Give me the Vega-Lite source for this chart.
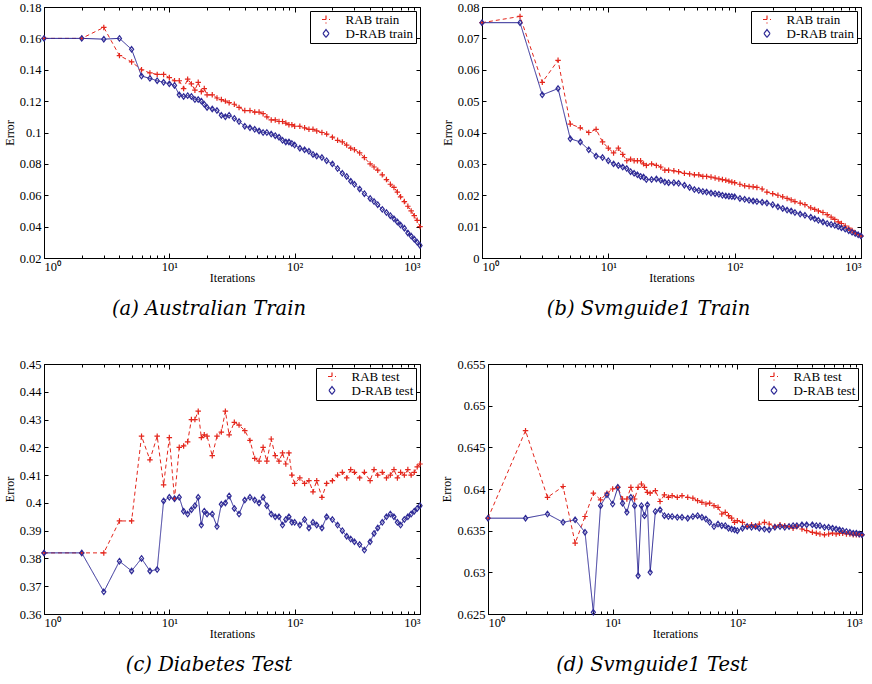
{
"$schema":"https://vega.github.io/schema/vega-lite/v6.json",
"padding":{"left":2,"top":0,"right":2,"bottom":0},
"background":"white",
"config":{
 "font":"Liberation Serif",
 "view":{"stroke":"black","strokeWidth":1},
 "axis":{"grid":false,"domainColor":"black","domainWidth":1,"tickColor":"black","tickWidth":1,"labelColor":"black","labelFont":"Liberation Serif","labelFontSize":12.5,"titleFont":"Liberation Serif","titleFontSize":12,"titleFontWeight":"normal","titleColor":"black","tickSize":-4},
 "axisLeft":{"labelPadding":7,"titlePadding":3},
 "axisBottom":{"labelPadding":7,"titlePadding":0},
 "axisTop":{"labels":false,"domain":false,"title":null},
 "axisRight":{"labels":false,"domain":false,"title":null},
 "legend":{"orient":"top-right","offset":4,"fillColor":"white","strokeColor":"black","padding":2,"labelFont":"Liberation Serif","labelFontSize":13,"labelColor":"black","rowPadding":-2,"title":null,"symbolSize":64,"symbolStrokeWidth":1.2,"symbolOffset":7.5,"labelOffset":13},
 "title":{"orient":"bottom","font":"DejaVu Serif","fontSize":19.5,"fontWeight":"normal","fontStyle":"italic","color":"black","offset":16,"anchor":"middle","dx":-23}
},
"datasets":{
"a":[
{"x":1,"RAB":0.160,"DRAB":0.160},{"x":2,"RAB":0.160,"DRAB":0.160},{"x":3,"RAB":0.167,"DRAB":0.1595},{"x":4,"RAB":0.149,"DRAB":0.160},{"x":5,"RAB":0.145,"DRAB":0.153},{"x":6,"RAB":0.140,"DRAB":0.136},{"x":7,"RAB":0.138,"DRAB":0.1345},{"x":8,"RAB":0.137,"DRAB":0.133},{"x":9,"RAB":0.137,"DRAB":0.132},{"x":10,"RAB":0.135,"DRAB":0.131},{"x":11,"RAB":0.133,"DRAB":0.130},{"x":12,"RAB":0.133,"DRAB":0.124},{"x":13,"RAB":0.128,"DRAB":0.123},{"x":14,"RAB":0.134,"DRAB":0.1235},{"x":15,"RAB":0.131,"DRAB":0.123},{"x":16,"RAB":0.127,"DRAB":0.121},{"x":17,"RAB":0.132,"DRAB":0.121},{"x":18,"RAB":0.126,"DRAB":0.120},{"x":19,"RAB":0.128,"DRAB":0.118},{"x":20,"RAB":0.124,"DRAB":0.116},
{"x":22,"RAB":0.124,"DRAB":0.115},{"x":24,"RAB":0.122,"DRAB":0.114},{"x":26,"RAB":0.121,"DRAB":0.111},{"x":28,"RAB":0.120,"DRAB":0.110},{"x":30,"RAB":0.119,"DRAB":0.111},{"x":33,"RAB":0.118,"DRAB":0.109},{"x":36,"RAB":0.116,"DRAB":0.107},{"x":40,"RAB":0.114,"DRAB":0.104},{"x":44,"RAB":0.114,"DRAB":0.103},{"x":48,"RAB":0.113,"DRAB":0.102},{"x":52,"RAB":0.113,"DRAB":0.101},{"x":56,"RAB":0.112,"DRAB":0.100},{"x":60,"RAB":0.110,"DRAB":0.100},{"x":65,"RAB":0.108,"DRAB":0.099},{"x":70,"RAB":0.108,"DRAB":0.098},{"x":75,"RAB":0.107,"DRAB":0.097},{"x":80,"RAB":0.107,"DRAB":0.095},{"x":85,"RAB":0.106,"DRAB":0.094},{"x":90,"RAB":0.105,"DRAB":0.094},{"x":95,"RAB":0.105,"DRAB":0.093},{"x":100,"RAB":0.104,"DRAB":0.092},
{"x":110,"RAB":0.104,"DRAB":0.090},{"x":120,"RAB":0.103,"DRAB":0.089},{"x":130,"RAB":0.102,"DRAB":0.088},{"x":140,"RAB":0.102,"DRAB":0.086},{"x":150,"RAB":0.101,"DRAB":0.085},{"x":165,"RAB":0.100,"DRAB":0.084},{"x":180,"RAB":0.099,"DRAB":0.082},{"x":200,"RAB":0.097,"DRAB":0.080},{"x":220,"RAB":0.095,"DRAB":0.077},{"x":240,"RAB":0.094,"DRAB":0.074},{"x":260,"RAB":0.092,"DRAB":0.072},{"x":280,"RAB":0.090,"DRAB":0.069},{"x":300,"RAB":0.089,"DRAB":0.067},{"x":330,"RAB":0.087,"DRAB":0.064},{"x":360,"RAB":0.084,"DRAB":0.061},{"x":400,"RAB":0.080,"DRAB":0.058},{"x":430,"RAB":0.078,"DRAB":0.056},{"x":460,"RAB":0.076,"DRAB":0.054},{"x":500,"RAB":0.073,"DRAB":0.051},{"x":540,"RAB":0.070,"DRAB":0.049},{"x":580,"RAB":0.067,"DRAB":0.047},{"x":620,"RAB":0.065,"DRAB":0.045},{"x":660,"RAB":0.062,"DRAB":0.043},{"x":700,"RAB":0.059,"DRAB":0.041},{"x":750,"RAB":0.056,"DRAB":0.039},{"x":800,"RAB":0.053,"DRAB":0.036},{"x":850,"RAB":0.050,"DRAB":0.034},{"x":900,"RAB":0.047,"DRAB":0.032},{"x":950,"RAB":0.044,"DRAB":0.030},{"x":1000,"RAB":0.040,"DRAB":0.028}
],
"b":[
{"x":1,"RAB":0.075,"DRAB":0.075},{"x":2,"RAB":0.077,"DRAB":0.075},{"x":3,"RAB":0.056,"DRAB":0.052},{"x":4,"RAB":0.063,"DRAB":0.054},{"x":5,"RAB":0.0427,"DRAB":0.038},{"x":6,"RAB":0.0415,"DRAB":0.037},{"x":7,"RAB":0.040,"DRAB":0.0345},{"x":8,"RAB":0.041,"DRAB":0.0325},{"x":9,"RAB":0.037,"DRAB":0.032},{"x":10,"RAB":0.035,"DRAB":0.031},{"x":11,"RAB":0.0335,"DRAB":0.030},{"x":12,"RAB":0.035,"DRAB":0.0295},{"x":13,"RAB":0.033,"DRAB":0.029},{"x":14,"RAB":0.031,"DRAB":0.0285},{"x":15,"RAB":0.0315,"DRAB":0.0275},{"x":16,"RAB":0.031,"DRAB":0.027},{"x":17,"RAB":0.031,"DRAB":0.0265},{"x":18,"RAB":0.031,"DRAB":0.026},{"x":19,"RAB":0.030,"DRAB":0.0258},{"x":20,"RAB":0.0295,"DRAB":0.025},
{"x":22,"RAB":0.030,"DRAB":0.025},{"x":24,"RAB":0.0295,"DRAB":0.0252},{"x":26,"RAB":0.029,"DRAB":0.0248},{"x":28,"RAB":0.028,"DRAB":0.0242},{"x":30,"RAB":0.028,"DRAB":0.024},{"x":33,"RAB":0.0278,"DRAB":0.024},{"x":36,"RAB":0.0275,"DRAB":0.0238},{"x":40,"RAB":0.027,"DRAB":0.0232},{"x":44,"RAB":0.0268,"DRAB":0.0225},{"x":48,"RAB":0.0265,"DRAB":0.0218},{"x":52,"RAB":0.0265,"DRAB":0.0215},{"x":56,"RAB":0.026,"DRAB":0.0212},{"x":60,"RAB":0.026,"DRAB":0.021},{"x":65,"RAB":0.0258,"DRAB":0.0207},{"x":70,"RAB":0.0255,"DRAB":0.0205},{"x":75,"RAB":0.0252,"DRAB":0.0203},{"x":80,"RAB":0.025,"DRAB":0.020},{"x":85,"RAB":0.0248,"DRAB":0.0198},{"x":90,"RAB":0.0245,"DRAB":0.0197},{"x":95,"RAB":0.0242,"DRAB":0.0196},{"x":100,"RAB":0.024,"DRAB":0.0195},
{"x":110,"RAB":0.0235,"DRAB":0.019},{"x":120,"RAB":0.023,"DRAB":0.0187},{"x":130,"RAB":0.0228,"DRAB":0.0184},{"x":140,"RAB":0.0227,"DRAB":0.0182},{"x":150,"RAB":0.0225,"DRAB":0.018},{"x":165,"RAB":0.022,"DRAB":0.0178},{"x":180,"RAB":0.021,"DRAB":0.0175},{"x":200,"RAB":0.0205,"DRAB":0.017},{"x":220,"RAB":0.020,"DRAB":0.0163},{"x":240,"RAB":0.0195,"DRAB":0.0158},{"x":260,"RAB":0.019,"DRAB":0.0153},{"x":280,"RAB":0.0185,"DRAB":0.015},{"x":300,"RAB":0.018,"DRAB":0.0145},{"x":330,"RAB":0.0175,"DRAB":0.014},{"x":360,"RAB":0.017,"DRAB":0.0136},{"x":400,"RAB":0.016,"DRAB":0.013},{"x":430,"RAB":0.0155,"DRAB":0.0125},{"x":460,"RAB":0.015,"DRAB":0.012},{"x":500,"RAB":0.0145,"DRAB":0.0115},{"x":540,"RAB":0.0138,"DRAB":0.011},{"x":580,"RAB":0.013,"DRAB":0.0107},{"x":620,"RAB":0.0123,"DRAB":0.0104},{"x":660,"RAB":0.0115,"DRAB":0.010},{"x":700,"RAB":0.011,"DRAB":0.0096},{"x":750,"RAB":0.0102,"DRAB":0.0092},{"x":800,"RAB":0.0095,"DRAB":0.0087},{"x":850,"RAB":0.0088,"DRAB":0.0082},{"x":900,"RAB":0.008,"DRAB":0.0078},{"x":950,"RAB":0.0075,"DRAB":0.0074},{"x":1000,"RAB":0.007,"DRAB":0.007}
],
"c":[
{"x":1,"RAB":0.382,"DRAB":0.382},{"x":2,"RAB":0.382,"DRAB":0.382},{"x":3,"RAB":0.382,"DRAB":0.368},{"x":4,"RAB":0.3935,"DRAB":0.379},{"x":5,"RAB":0.3935,"DRAB":0.3755},{"x":6,"RAB":0.424,"DRAB":0.380},{"x":7,"RAB":0.4155,"DRAB":0.3755},{"x":8,"RAB":0.424,"DRAB":0.376},{"x":9,"RAB":0.4065,"DRAB":0.4007},{"x":10,"RAB":0.4235,"DRAB":0.402},{"x":11,"RAB":0.4015,"DRAB":0.4015},{"x":12,"RAB":0.420,"DRAB":0.402},{"x":13,"RAB":0.4205,"DRAB":0.397},{"x":14,"RAB":0.422,"DRAB":0.396},{"x":15,"RAB":0.430,"DRAB":0.3975},{"x":16,"RAB":0.430,"DRAB":0.399},{"x":17,"RAB":0.433,"DRAB":0.402},{"x":18,"RAB":0.4235,"DRAB":0.392},{"x":19,"RAB":0.4245,"DRAB":0.397},{"x":20,"RAB":0.424,"DRAB":0.396},
{"x":22,"RAB":0.417,"DRAB":0.396},{"x":24,"RAB":0.424,"DRAB":0.3915},{"x":26,"RAB":0.4255,"DRAB":0.3995},{"x":28,"RAB":0.433,"DRAB":0.400},{"x":30,"RAB":0.4245,"DRAB":0.4025},{"x":33,"RAB":0.429,"DRAB":0.398},{"x":36,"RAB":0.428,"DRAB":0.396},{"x":40,"RAB":0.426,"DRAB":0.401},{"x":44,"RAB":0.4225,"DRAB":0.402},{"x":48,"RAB":0.416,"DRAB":0.401},{"x":52,"RAB":0.415,"DRAB":0.400},{"x":56,"RAB":0.420,"DRAB":0.402},{"x":60,"RAB":0.415,"DRAB":0.399},{"x":65,"RAB":0.423,"DRAB":0.396},{"x":70,"RAB":0.417,"DRAB":0.395},{"x":75,"RAB":0.415,"DRAB":0.395},{"x":80,"RAB":0.418,"DRAB":0.392},{"x":85,"RAB":0.414,"DRAB":0.394},{"x":90,"RAB":0.418,"DRAB":0.395},{"x":95,"RAB":0.410,"DRAB":0.393},{"x":100,"RAB":0.407,"DRAB":0.393},
{"x":110,"RAB":0.409,"DRAB":0.392},{"x":120,"RAB":0.407,"DRAB":0.394},{"x":130,"RAB":0.408,"DRAB":0.391},{"x":140,"RAB":0.404,"DRAB":0.393},{"x":150,"RAB":0.408,"DRAB":0.392},{"x":165,"RAB":0.402,"DRAB":0.391},{"x":180,"RAB":0.407,"DRAB":0.395},{"x":200,"RAB":0.408,"DRAB":0.394},{"x":220,"RAB":0.410,"DRAB":0.392},{"x":240,"RAB":0.411,"DRAB":0.390},{"x":260,"RAB":0.409,"DRAB":0.388},{"x":280,"RAB":0.412,"DRAB":0.387},{"x":300,"RAB":0.411,"DRAB":0.386},{"x":330,"RAB":0.409,"DRAB":0.385},{"x":360,"RAB":0.411,"DRAB":0.383},{"x":400,"RAB":0.408,"DRAB":0.386},{"x":430,"RAB":0.412,"DRAB":0.389},{"x":460,"RAB":0.410,"DRAB":0.391},{"x":500,"RAB":0.411,"DRAB":0.393},{"x":540,"RAB":0.409,"DRAB":0.395},{"x":580,"RAB":0.410,"DRAB":0.396},{"x":620,"RAB":0.412,"DRAB":0.395},{"x":660,"RAB":0.409,"DRAB":0.393},{"x":700,"RAB":0.411,"DRAB":0.392},{"x":750,"RAB":0.410,"DRAB":0.394},{"x":800,"RAB":0.412,"DRAB":0.395},{"x":850,"RAB":0.410,"DRAB":0.396},{"x":900,"RAB":0.411,"DRAB":0.397},{"x":950,"RAB":0.413,"DRAB":0.398},{"x":1000,"RAB":0.414,"DRAB":0.399}
],
"d":[
{"x":1,"RAB":0.6365,"DRAB":0.6365},{"x":2,"RAB":0.647,"DRAB":0.6365},{"x":3,"RAB":0.639,"DRAB":0.637},{"x":4,"RAB":0.6403,"DRAB":0.636},{"x":5,"RAB":0.6335,"DRAB":0.6363},{"x":6,"RAB":0.6367,"DRAB":0.6348},{"x":7,"RAB":0.6395,"DRAB":0.6252},{"x":8,"RAB":0.6387,"DRAB":0.638},{"x":9,"RAB":0.6395,"DRAB":0.6393},{"x":10,"RAB":0.640,"DRAB":0.6382},{"x":11,"RAB":0.6402,"DRAB":0.6402},{"x":12,"RAB":0.6388,"DRAB":0.6383},{"x":13,"RAB":0.6388,"DRAB":0.6372},{"x":14,"RAB":0.6402,"DRAB":0.639},{"x":15,"RAB":0.6388,"DRAB":0.638},{"x":16,"RAB":0.6402,"DRAB":0.6296},{"x":17,"RAB":0.6406,"DRAB":0.638},{"x":18,"RAB":0.6402,"DRAB":0.6368},{"x":19,"RAB":0.6396,"DRAB":0.6381},{"x":20,"RAB":0.6395,"DRAB":0.630},
{"x":22,"RAB":0.6398,"DRAB":0.6373},{"x":24,"RAB":0.6385,"DRAB":0.6375},{"x":26,"RAB":0.6393,"DRAB":0.6368},{"x":28,"RAB":0.6390,"DRAB":0.6367},{"x":30,"RAB":0.6392,"DRAB":0.6367},{"x":33,"RAB":0.6390,"DRAB":0.6366},{"x":36,"RAB":0.6392,"DRAB":0.6366},{"x":40,"RAB":0.6390,"DRAB":0.6365},{"x":44,"RAB":0.6389,"DRAB":0.6367},{"x":48,"RAB":0.6386,"DRAB":0.6368},{"x":52,"RAB":0.6384,"DRAB":0.6366},{"x":56,"RAB":0.6382,"DRAB":0.6364},{"x":60,"RAB":0.6383,"DRAB":0.636},{"x":65,"RAB":0.6380,"DRAB":0.6355},{"x":70,"RAB":0.6378,"DRAB":0.6358},{"x":75,"RAB":0.6370,"DRAB":0.6356},{"x":80,"RAB":0.6372,"DRAB":0.6356},{"x":85,"RAB":0.6368,"DRAB":0.6353},{"x":90,"RAB":0.6365,"DRAB":0.6352},{"x":95,"RAB":0.636,"DRAB":0.6351},{"x":100,"RAB":0.6362,"DRAB":0.635},
{"x":110,"RAB":0.6360,"DRAB":0.6353},{"x":120,"RAB":0.6355,"DRAB":0.6355},{"x":130,"RAB":0.6357,"DRAB":0.6354},{"x":140,"RAB":0.6355,"DRAB":0.6355},{"x":150,"RAB":0.6358,"DRAB":0.6353},{"x":165,"RAB":0.636,"DRAB":0.6352},{"x":180,"RAB":0.6358,"DRAB":0.6351},{"x":200,"RAB":0.6355,"DRAB":0.6354},{"x":220,"RAB":0.6357,"DRAB":0.6355},{"x":240,"RAB":0.6356,"DRAB":0.6354},{"x":260,"RAB":0.6355,"DRAB":0.6355},{"x":280,"RAB":0.6353,"DRAB":0.6356},{"x":300,"RAB":0.6355,"DRAB":0.6356},{"x":330,"RAB":0.6352,"DRAB":0.6357},{"x":360,"RAB":0.6350,"DRAB":0.6357},{"x":400,"RAB":0.6348,"DRAB":0.6357},{"x":430,"RAB":0.6347,"DRAB":0.6356},{"x":460,"RAB":0.6346,"DRAB":0.6356},{"x":500,"RAB":0.6345,"DRAB":0.6354},{"x":540,"RAB":0.6346,"DRAB":0.6354},{"x":580,"RAB":0.6347,"DRAB":0.6353},{"x":620,"RAB":0.6346,"DRAB":0.6352},{"x":660,"RAB":0.6347,"DRAB":0.6351},{"x":700,"RAB":0.6347,"DRAB":0.635},{"x":750,"RAB":0.6346,"DRAB":0.6349},{"x":800,"RAB":0.6346,"DRAB":0.6348},{"x":850,"RAB":0.6345,"DRAB":0.6347},{"x":900,"RAB":0.6345,"DRAB":0.6347},{"x":950,"RAB":0.6345,"DRAB":0.6346},{"x":1000,"RAB":0.6345,"DRAB":0.6345}
]
},
"resolve":{"scale":{"color":"independent","shape":"independent","strokeDash":"independent","x":"independent","y":"independent"},"legend":{"color":"independent"}},
"spacing":38,
"vconcat":[
{"hconcat":[
{
 "width":376,"height":251,
 "data":{"name":"a"},
 "transform":[{"fold":["RAB","DRAB"],"as":["s","y"]}],
 "title":{"text":"(a) Australian Train"},
 "encoding":{
  "x":{"field":"x","type":"quantitative","scale":{"type":"log","domain":[1,1000],"nice":false},"axis":{"title":"Iterations","values":[1,2,3,4,5,6,7,8,9,10,20,30,40,50,60,70,80,90,100,200,300,400,500,600,700,800,900,1000],"labelExpr":"datum.value==1?'10⁰':datum.value==10?'10¹':datum.value==100?'10²':datum.value==1000?'10³':''","tickSize":{"condition":{"test":"indexof([1,10,100,1000],datum.value)>=0","value":-5},"value":-3}}},
  "y":{"field":"y","type":"quantitative","scale":{"domain":[0.02,0.18],"nice":false,"zero":false},"axis":{"title":"Error","values":[0.02,0.04,0.06,0.08,0.1,0.12,0.14,0.16,0.18],"format":"~g"}},
  "color":{"field":"s","type":"nominal","scale":{"domain":["RAB","DRAB"],"range":["#e4261c","#2e2a96"]},"legend":{"labelExpr":"datum.value=='RAB'?'RAB train':'D-RAB train'"}}
 },
 "resolve":{"axis":{"x":"independent","y":"independent"}},
 "layer":[
  {"mark":{"type":"line","strokeWidth":1,"clip":true},"encoding":{"strokeDash":{"field":"s","type":"nominal","scale":{"domain":["RAB","DRAB"],"range":[[4,3],[1,0]]},"legend":null}}},
  {"mark":{"type":"point","filled":false,"strokeWidth":1.2,"size":30,"opacity":1},"encoding":{
   "x":{"field":"x","type":"quantitative","scale":{"type":"log","domain":[1,1000],"nice":false},"axis":{"orient":"top","values":[1,2,3,4,5,6,7,8,9,10,20,30,40,50,60,70,80,90,100,200,300,400,500,600,700,800,900,1000],"tickSize":{"condition":{"test":"indexof([1,10,100,1000],datum.value)>=0","value":-5},"value":-3}}},
   "y":{"field":"y","type":"quantitative","scale":{"domain":[0.02,0.18],"nice":false,"zero":false},"axis":{"orient":"right","values":[0.02,0.04,0.06,0.08,0.1,0.12,0.14,0.16,0.18]}},
   "shape":{"field":"s","type":"nominal","scale":{"domain":["RAB","DRAB"],"range":["M-1,0L1,0M0,-1L0,1","M0,-1L0.75,0L0,1L-0.75,0Z"]},"legend":null}}}
 ]
},
{
 "width":379,"height":251,
 "data":{"name":"b"},
 "transform":[{"fold":["RAB","DRAB"],"as":["s","y"]}],
 "title":{"text":"(b) Svmguide1 Train"},
 "encoding":{
  "x":{"field":"x","type":"quantitative","scale":{"type":"log","domain":[1,1000],"nice":false},"axis":{"title":"Iterations","values":[1,2,3,4,5,6,7,8,9,10,20,30,40,50,60,70,80,90,100,200,300,400,500,600,700,800,900,1000],"labelExpr":"datum.value==1?'10⁰':datum.value==10?'10¹':datum.value==100?'10²':datum.value==1000?'10³':''","tickSize":{"condition":{"test":"indexof([1,10,100,1000],datum.value)>=0","value":-5},"value":-3}}},
  "y":{"field":"y","type":"quantitative","scale":{"domain":[0,0.08],"nice":false,"zero":false},"axis":{"title":"Error","values":[0,0.01,0.02,0.03,0.04,0.05,0.06,0.07,0.08],"format":"~g"}},
  "color":{"field":"s","type":"nominal","scale":{"domain":["RAB","DRAB"],"range":["#e4261c","#2e2a96"]},"legend":{"labelExpr":"datum.value=='RAB'?'RAB train':'D-RAB train'"}}
 },
 "resolve":{"axis":{"x":"independent","y":"independent"}},
 "layer":[
  {"mark":{"type":"line","strokeWidth":1,"clip":true},"encoding":{"strokeDash":{"field":"s","type":"nominal","scale":{"domain":["RAB","DRAB"],"range":[[4,3],[1,0]]},"legend":null}}},
  {"mark":{"type":"point","filled":false,"strokeWidth":1.2,"size":30,"opacity":1},"encoding":{
   "x":{"field":"x","type":"quantitative","scale":{"type":"log","domain":[1,1000],"nice":false},"axis":{"orient":"top","values":[1,2,3,4,5,6,7,8,9,10,20,30,40,50,60,70,80,90,100,200,300,400,500,600,700,800,900,1000],"tickSize":{"condition":{"test":"indexof([1,10,100,1000],datum.value)>=0","value":-5},"value":-3}}},
   "y":{"field":"y","type":"quantitative","scale":{"domain":[0,0.08],"nice":false,"zero":false},"axis":{"orient":"right","values":[0,0.01,0.02,0.03,0.04,0.05,0.06,0.07,0.08]}},
   "shape":{"field":"s","type":"nominal","scale":{"domain":["RAB","DRAB"],"range":["M-1,0L1,0M0,-1L0,1","M0,-1L0.75,0L0,1L-0.75,0Z"]},"legend":null}}}
 ]
}
],"spacing":14,"resolve":{"scale":{"color":"independent","shape":"independent","strokeDash":"independent"},"legend":{"color":"independent"}}},
{"hconcat":[
{
 "width":376,"height":250,
 "data":{"name":"c"},
 "transform":[{"fold":["RAB","DRAB"],"as":["s","y"]}],
 "title":{"text":"(c) Diabetes Test"},
 "encoding":{
  "x":{"field":"x","type":"quantitative","scale":{"type":"log","domain":[1,1000],"nice":false},"axis":{"title":"Iterations","values":[1,2,3,4,5,6,7,8,9,10,20,30,40,50,60,70,80,90,100,200,300,400,500,600,700,800,900,1000],"labelExpr":"datum.value==1?'10⁰':datum.value==10?'10¹':datum.value==100?'10²':datum.value==1000?'10³':''","tickSize":{"condition":{"test":"indexof([1,10,100,1000],datum.value)>=0","value":-5},"value":-3}}},
  "y":{"field":"y","type":"quantitative","scale":{"domain":[0.36,0.45],"nice":false,"zero":false},"axis":{"title":"Error","values":[0.36,0.37,0.38,0.39,0.4,0.41,0.42,0.43,0.44,0.45],"format":"~g"}},
  "color":{"field":"s","type":"nominal","scale":{"domain":["RAB","DRAB"],"range":["#e4261c","#2e2a96"]},"legend":{"labelExpr":"datum.value=='RAB'?'RAB test':'D-RAB test'"}}
 },
 "resolve":{"axis":{"x":"independent","y":"independent"}},
 "layer":[
  {"mark":{"type":"line","strokeWidth":1,"clip":true},"encoding":{"strokeDash":{"field":"s","type":"nominal","scale":{"domain":["RAB","DRAB"],"range":[[4,3],[1,0]]},"legend":null}}},
  {"mark":{"type":"point","filled":false,"strokeWidth":1.2,"size":30,"opacity":1},"encoding":{
   "x":{"field":"x","type":"quantitative","scale":{"type":"log","domain":[1,1000],"nice":false},"axis":{"orient":"top","values":[1,2,3,4,5,6,7,8,9,10,20,30,40,50,60,70,80,90,100,200,300,400,500,600,700,800,900,1000],"tickSize":{"condition":{"test":"indexof([1,10,100,1000],datum.value)>=0","value":-5},"value":-3}}},
   "y":{"field":"y","type":"quantitative","scale":{"domain":[0.36,0.45],"nice":false,"zero":false},"axis":{"orient":"right","values":[0.36,0.37,0.38,0.39,0.4,0.41,0.42,0.43,0.44,0.45]}},
   "shape":{"field":"s","type":"nominal","scale":{"domain":["RAB","DRAB"],"range":["M-1,0L1,0M0,-1L0,1","M0,-1L0.75,0L0,1L-0.75,0Z"]},"legend":null}}}
 ]
},
{
 "width":374,"height":250,
 "data":{"name":"d"},
 "transform":[{"fold":["RAB","DRAB"],"as":["s","y"]}],
 "title":{"text":"(d) Svmguide1 Test"},
 "encoding":{
  "x":{"field":"x","type":"quantitative","scale":{"type":"log","domain":[1,1000],"nice":false},"axis":{"title":"Iterations","values":[1,2,3,4,5,6,7,8,9,10,20,30,40,50,60,70,80,90,100,200,300,400,500,600,700,800,900,1000],"labelExpr":"datum.value==1?'10⁰':datum.value==10?'10¹':datum.value==100?'10²':datum.value==1000?'10³':''","tickSize":{"condition":{"test":"indexof([1,10,100,1000],datum.value)>=0","value":-5},"value":-3}}},
  "y":{"field":"y","type":"quantitative","scale":{"domain":[0.625,0.655],"nice":false,"zero":false},"axis":{"title":"Error","values":[0.625,0.63,0.635,0.64,0.645,0.65,0.655],"format":"~g"}},
  "color":{"field":"s","type":"nominal","scale":{"domain":["RAB","DRAB"],"range":["#e4261c","#2e2a96"]},"legend":{"labelExpr":"datum.value=='RAB'?'RAB test':'D-RAB test'"}}
 },
 "resolve":{"axis":{"x":"independent","y":"independent"}},
 "layer":[
  {"mark":{"type":"line","strokeWidth":1,"clip":true},"encoding":{"strokeDash":{"field":"s","type":"nominal","scale":{"domain":["RAB","DRAB"],"range":[[4,3],[1,0]]},"legend":null}}},
  {"mark":{"type":"point","filled":false,"strokeWidth":1.2,"size":30,"opacity":1},"encoding":{
   "x":{"field":"x","type":"quantitative","scale":{"type":"log","domain":[1,1000],"nice":false},"axis":{"orient":"top","values":[1,2,3,4,5,6,7,8,9,10,20,30,40,50,60,70,80,90,100,200,300,400,500,600,700,800,900,1000],"tickSize":{"condition":{"test":"indexof([1,10,100,1000],datum.value)>=0","value":-5},"value":-3}}},
   "y":{"field":"y","type":"quantitative","scale":{"domain":[0.625,0.655],"nice":false,"zero":false},"axis":{"orient":"right","values":[0.625,0.63,0.635,0.64,0.645,0.65,0.655]}},
   "shape":{"field":"s","type":"nominal","scale":{"domain":["RAB","DRAB"],"range":["M-1,0L1,0M0,-1L0,1","M0,-1L0.75,0L0,1L-0.75,0Z"]},"legend":null}}}
 ]
}
],"spacing":14,"resolve":{"scale":{"color":"independent","shape":"independent","strokeDash":"independent"},"legend":{"color":"independent"}}}
]
}
